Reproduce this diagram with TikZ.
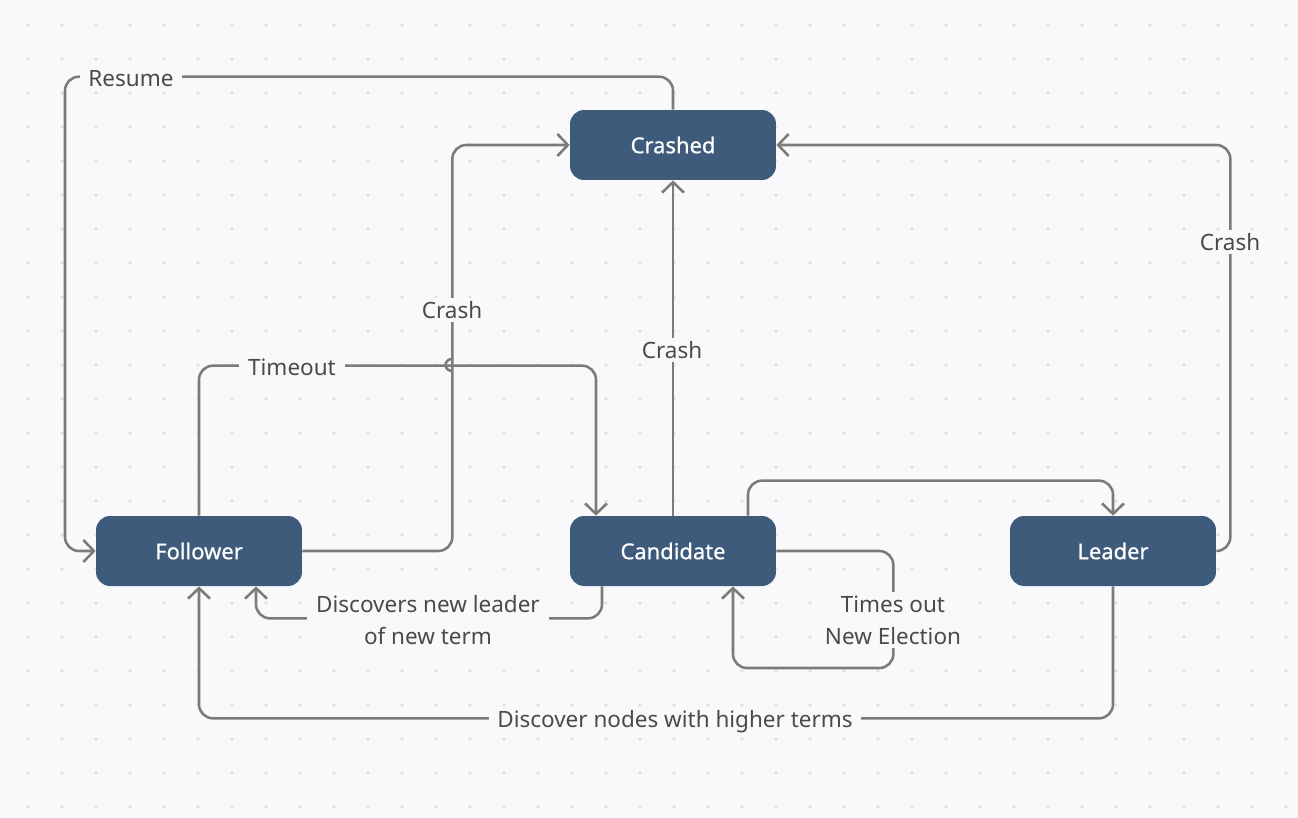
\documentclass[tikz,border=0pt]{standalone}
\usepackage{fontspec}
\setmainfont{Noto Sans}
\newfontfamily\statefont[FakeBold=0.6]{Noto Sans}
\usepackage{tikz}
\usetikzlibrary{arrows.meta,positioning}
\definecolor{bgc}{HTML}{F9F9FB}
\definecolor{dotc}{HTML}{E1E1E5}
\definecolor{statec}{HTML}{3E5B7C}
\definecolor{linec}{HTML}{7B7B7B}
\definecolor{textc}{HTML}{4A4A4A}

\begin{document}
\begin{tikzpicture}[x=0.02cm, y=-0.02cm,
    state/.style={draw=none, fill=statec, rounded corners=0.28cm, minimum width=4.12cm, minimum height=1.4cm, text=white, font=\statefont\fontsize{12.5}{17}\selectfont},
    conn/.style={draw=linec, line width=1.45pt, rounded corners=0.28cm, -{Straight Barb[length=6pt, width=12.5pt, line width=1.45pt]}},
    lbl/.style={fill=bgc, text=textc, align=center, inner xsep=5pt, inner ysep=2pt, font=\fontsize{12.8}{18.2}\selectfont}]
    \fill[bgc] (0,0) rectangle (1298,818);
    \foreach \i in {0,...,37} {
        \foreach \j in {0,...,23} {
            \fill[dotc] (28+34*\i, 25+34*\j) circle (1.1pt);
        }
    }
    
    \node[state] (crashed) at (673,145) {Crashed};
    \node[state] (follower) at (199,551) {Follower};
    \node[state] (candidate) at (673,551) {Candidate};
    \node[state] (leader) at (1113,551) {Leader};
    
    \draw[conn] (crashed.north) -- ++(0,-33) -- ++(-608,0) |- (follower.west);
    \draw[conn] (follower.east) -- ++(150,0) -- ++(0,-179) [sharp corners] -- ++(0,-1) .. controls +(-9,0) and +(-9,0) .. ++(0,-12) -- ++(0,-1) [rounded corners=0.28cm] |- (crashed.west);
    \draw[conn] (follower.north) -- ++(0,-150) -| ([xshift=-1.54cm]candidate.north);
    \draw[conn] (candidate.north) -- (crashed.south);
    \draw[conn] ([xshift=1.5cm]candidate.north) -- ++(0,-35) -| (leader.north);
    \draw[conn] (leader.east) -- ++(14,0) |- (crashed.east);
    \draw[conn] ([xshift=-1.42cm]candidate.south) -- ++(0,32) -| ([xshift=1.14cm]follower.south);
    \draw[conn] (candidate.east) -- ++(117,0) -- ++(0,117) -| ([xshift=1.2cm]candidate.south);
    \draw[conn] (leader.south) -- ++(0,132) -| (follower.south);
    
    \node[lbl] (resume) at (131,79) {Resume};
    \node[lbl] (crash1) at (452,310) {Crash};
    \node[lbl] (timeout) at (292,367) {Timeout};
    \node[lbl] (crash2) at (672,350) {Crash};
    \node[lbl] (crash3) at (1230,242) {Crash};
    \node[lbl] (discovers) at (428,620) {Discovers new leader\\of new term};
    \node[lbl] (timesout) at (893,620) {Times out\\New Election};
    \node[lbl] (higher) at (675,722) {Discover nodes with higher terms};
\end{tikzpicture}
\end{document}
